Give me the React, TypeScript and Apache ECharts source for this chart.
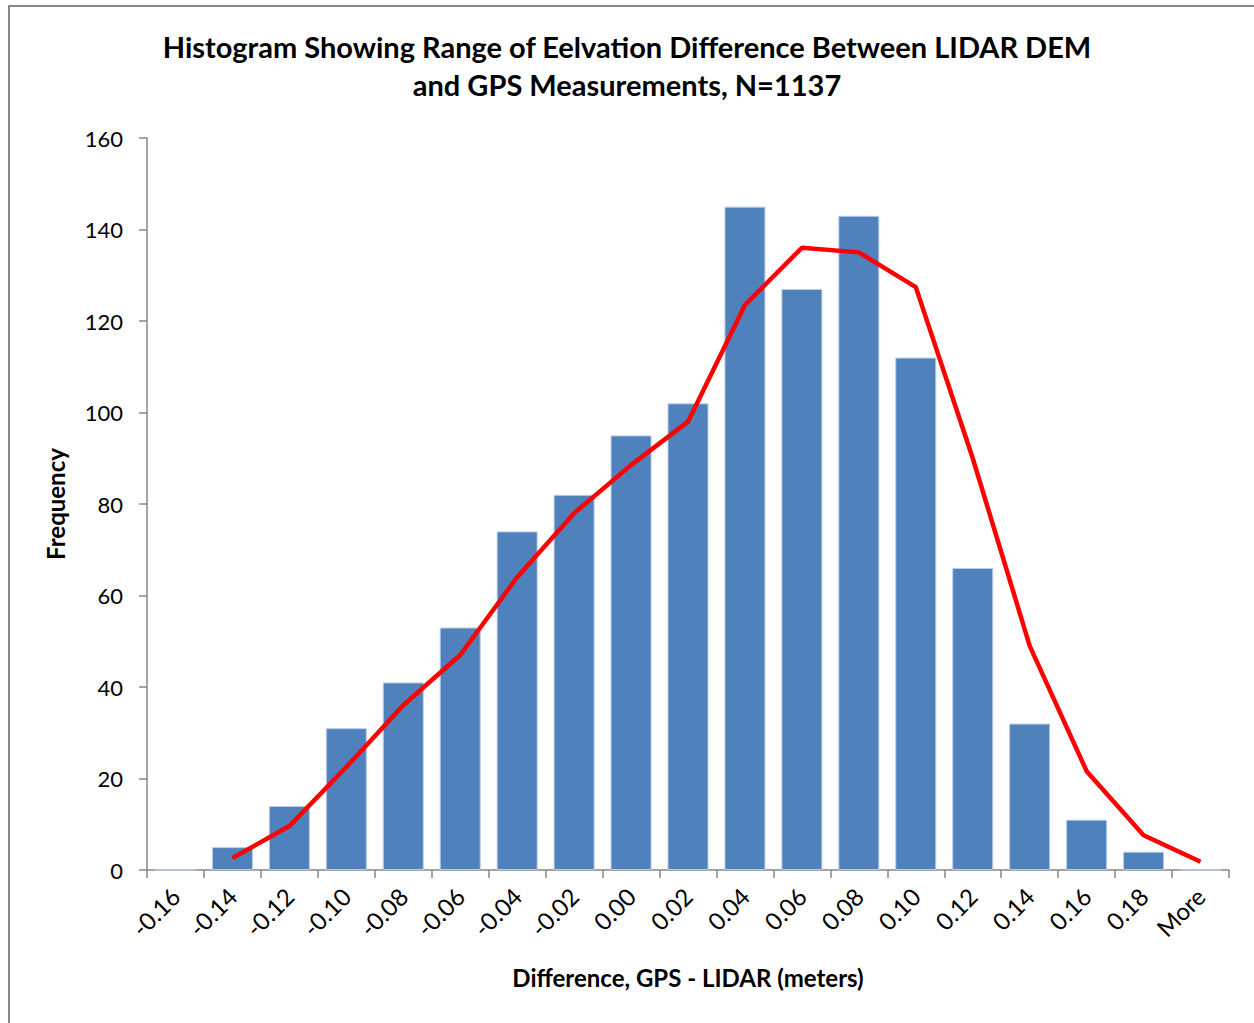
import React, { useEffect, useRef } from "react";
import * as echarts from "echarts";

const categories = ["-0.16", "-0.14", "-0.12", "-0.10", "-0.08", "-0.06", "-0.04", "-0.02", "0.00", "0.02", "0.04", "0.06", "0.08", "0.10", "0.12", "0.14", "0.16", "0.18", "More"];
const frequency = [0, 5, 14, 31, 41, 53, 74, 82, 95, 102, 145, 127, 143, 112, 66, 32, 11, 4, 0];
const fitted = [null, 2.6, 9.6, 22.5, 36, 47, 64, 78, 88.5, 98, 123.5, 136, 135, 127.4, 90, 49, 21.6, 7.6, 1.8];
const yTicks = [0, 20, 40, 60, 80, 100, 120, 140, 160];

const FONT = "Lato, 'Open Sans', sans-serif";
const AXIS = "#868686";

export default function App() {
  const ref = useRef<HTMLDivElement>(null);
  useEffect(() => {
    document.body.style.margin = "0";
    const chart = echarts.init(ref.current!, null, { renderer: "svg" });
    chart.setOption({
      animation: false,
      backgroundColor: "#ffffff",
      title: {
        text: "Histogram Showing Range of Eelvation Difference Between LIDAR DEM\nand GPS Measurements, N=1137",
        left: "center",
        top: 22,
        textStyle: { fontFamily: FONT, fontSize: 29, fontWeight: "bold", color: "#000", lineHeight: 38 },
      },
      graphic: [
        { type: "line", shape: { x1: 8, y1: 6, x2: 1254, y2: 6 }, style: { stroke: "#888", lineWidth: 2 } },
        { type: "line", shape: { x1: 9, y1: 6, x2: 9, y2: 1023 }, style: { stroke: "#888", lineWidth: 2 } },
      ],
      grid: { left: 147, right: 25, top: 138, bottom: 153, containLabel: false },
      xAxis: {
        type: "category",
        data: categories,
        boundaryGap: true,
        name: "Difference, GPS - LIDAR (meters)",
        nameLocation: "middle",
        nameGap: 95,
        nameTextStyle: { fontFamily: FONT, fontSize: 24, fontWeight: "bold", color: "#000" },
        axisLine: { lineStyle: { color: AXIS, width: 1.5 } },
        axisTick: { show: true, length: 8, alignWithLabel: false, lineStyle: { color: AXIS, width: 1.5 } },
        axisLabel: { rotate: 45, interval: 0, fontFamily: FONT, fontSize: 24, color: "#000", margin: 22 },
      },
      yAxis: {
        type: "value",
        min: 0,
        max: 160,
        interval: 20,
        name: "Frequency",
        nameLocation: "middle",
        nameGap: 80,
        nameTextStyle: { fontFamily: FONT, fontSize: 24, fontWeight: "bold", color: "#000" },
        axisLine: { show: true, lineStyle: { color: AXIS, width: 1.5 } },
        axisTick: { show: true, length: 8, lineStyle: { color: AXIS, width: 1.5 } },
        splitLine: { show: false },
        axisLabel: {
          fontFamily: FONT, fontSize: 22, color: "#000", margin: 24,
          formatter: (v: number) => (yTicks.includes(v) ? String(v) : ""),
        },
      },
      series: [
        {
          type: "bar",
          data: frequency,
          barCategoryGap: "28%",
          itemStyle: { color: "#4F81BD", borderColor: "#B9CDE5", borderWidth: 1 },
        },
        {
          type: "line",
          data: fitted,
          connectNulls: false,
          symbol: "none",
          lineStyle: { color: "#FF0000", width: 4.5 },
          z: 5,
        },
      ],
    });
    return () => chart.dispose();
  }, []);
  return <div ref={ref} style={{ width: 1254, height: 1023 }} />;
}
